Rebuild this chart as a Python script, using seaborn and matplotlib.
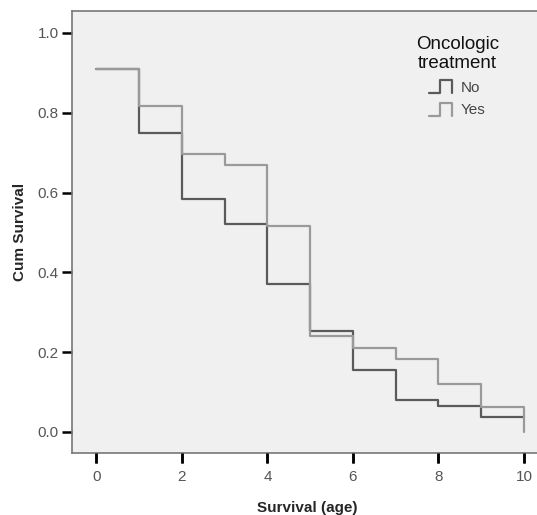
import numpy as np
import pandas as pd
import seaborn as sns
import matplotlib
matplotlib.use("Agg")
import matplotlib.pyplot as plt
from matplotlib.lines import Line2D
from matplotlib.legend_handler import HandlerBase
from matplotlib.markers import TICKDOWN

# ---- data ----
times = [0, 1, 2, 3, 4, 5, 6, 7, 8, 9, 10]
surv_no = [0.909, 0.749, 0.584, 0.521, 0.371, 0.252, 0.155, 0.080, 0.065, 0.037, 0.037]
surv_yes = [0.909, 0.817, 0.697, 0.668, 0.517, 0.241, 0.211, 0.183, 0.120, 0.063, 0.0]
groups = ["No", "Yes"]
colors = {"No": "#5a5a5a", "Yes": "#9a9a9a"}
x_ticks = [0, 2, 4, 6, 8, 10]
y_ticks = [0.0, 0.2, 0.4, 0.6, 0.8, 1.0]

df = pd.DataFrame({
    "time": times * 2,
    "surv": surv_no + surv_yes,
    "group": ["No"] * len(times) + ["Yes"] * len(times),
})

sns.set_theme(style="white", rc={
    "xtick.bottom": True, "ytick.left": True,
    "xtick.direction": "out", "ytick.direction": "out",
    "xtick.major.size": 7.5, "ytick.major.size": 7.5,
    "xtick.major.width": 1.8, "ytick.major.width": 1.8,
    "xtick.color": "black", "ytick.color": "black",
    "xtick.labelcolor": "#555555", "ytick.labelcolor": "#555555",
    "xtick.labelsize": 11, "ytick.labelsize": 11,
    "xtick.major.pad": 5, "ytick.major.pad": 2,
    "axes.edgecolor": "#777777", "axes.linewidth": 1.2,
    "axes.facecolor": "#f0f0f0",
})
plt.rcParams["font.family"] = ["Liberation Sans", "DejaVu Sans"]

fig = plt.figure(figsize=(5.37, 5.15), dpi=100)
ax = fig.add_axes([72 / 537, 62 / 515, 1 - 72 / 537 + 0.01, 442 / 515])

sns.lineplot(data=df, x="time", y="surv", hue="group", hue_order=groups,
             palette=colors, estimator=None, sort=False,
             drawstyle="steps-post", linewidth=1.6, ax=ax, legend=False)

# explicit x tick marks at the tick positions (below the bottom spine)
ax.plot(x_ticks, [0] * len(x_ticks), transform=ax.get_xaxis_transform(),
        linestyle="none", marker=TICKDOWN, markersize=7.5,
        markeredgewidth=1.8, color="black", clip_on=False, zorder=5)

ax.set_xlim(-0.57, 10.43)
ax.set_ylim(-0.053, 1.055)
ax.set_xticks(x_ticks)
ax.set_xticklabels([str(t) for t in x_ticks])
ax.set_yticks(y_ticks)
ax.set_yticklabels([f"{t:.1f}" for t in y_ticks])

ax.set_xlabel("Survival (age)", fontsize=11, fontweight="bold", labelpad=12)
ax.set_ylabel("Cum Survival", fontsize=11, fontweight="bold", labelpad=8)


class StepHandler(HandlerBase):
    def create_artists(self, legend, orig_handle, xdescent, ydescent,
                       width, height, fontsize, trans):
        xs = np.array([0.0, 0.5, 0.5, 1.0, 1.0]) * width - xdescent
        ys = np.array([-0.15, -0.15, 1.05, 1.05, -0.15]) * height - ydescent
        line = Line2D(xs, ys, color=orig_handle.get_color(),
                      linewidth=1.6, transform=trans)
        return [line]


handles = [Line2D([], [], color=colors[g]) for g in groups]
leg = ax.legend(handles, groups, title="Oncologic\ntreatment",
                handler_map={Line2D: StepHandler()},
                loc="upper left", bbox_to_anchor=(408 / 537, 1 - 28 / 515),
                bbox_transform=fig.transFigure, frameon=False,
                fontsize=11, title_fontsize=13.5, handlelength=1.5,
                handletextpad=0.6, labelspacing=0.55, borderpad=0)
leg.get_title().set_multialignment("center")
leg.get_title().set_color("#111111")
for t in leg.get_texts():
    t.set_color("#444444")

fig.savefig("out.png", dpi=100)
